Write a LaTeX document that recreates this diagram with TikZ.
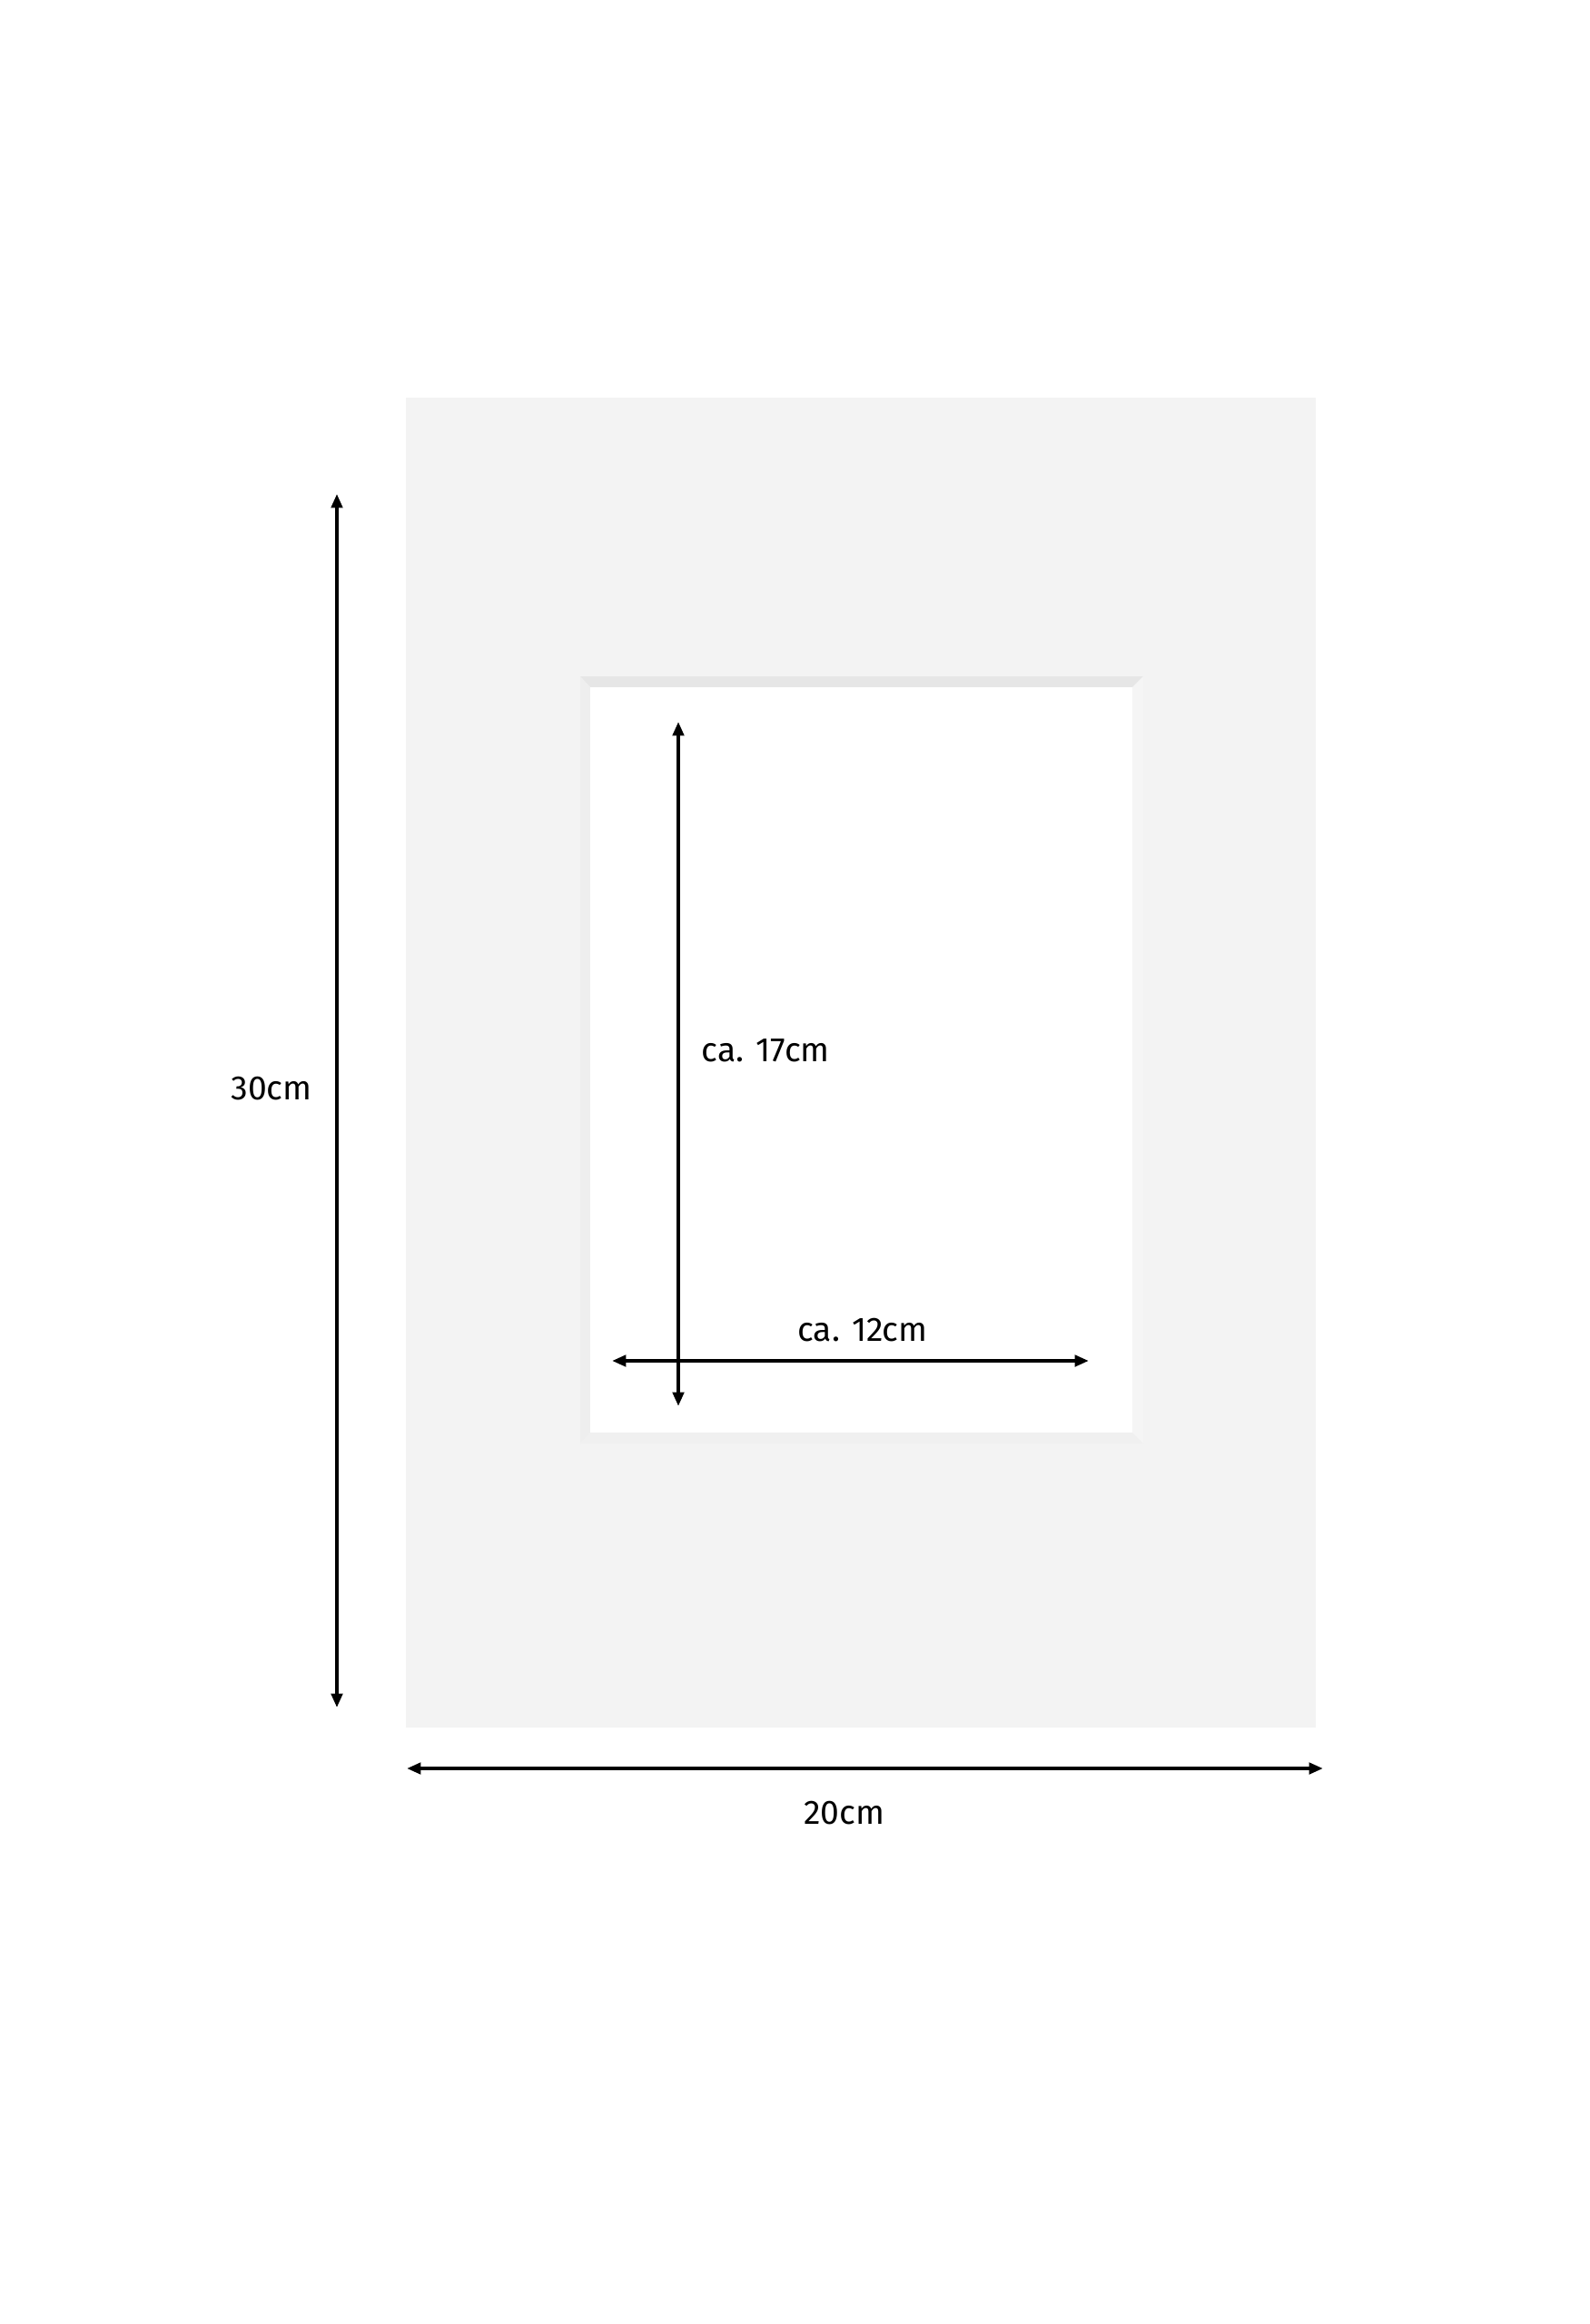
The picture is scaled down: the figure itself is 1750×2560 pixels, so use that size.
\documentclass[tikz,border=0pt]{standalone}
\usepackage{fontspec}
\setmainfont{Fira Sans}
\usetikzlibrary{arrows.meta}
\definecolor{matgray}{RGB}{243,243,243}
\definecolor{bevtop}{RGB}{230,230,230}
\definecolor{bevleft}{RGB}{238,238,238}
\definecolor{bevright}{RGB}{245,245,245}
\definecolor{bevbot}{RGB}{240,240,240}
\tikzset{
  dimline/.style={line width=1.15pt, black, {Triangle[length=4.4pt,width=3.5pt]}-{Triangle[length=4.4pt,width=3.5pt]}},
  dimlabel/.style={inner sep=0pt, font=\fontsize{10.6pt}{12pt}\selectfont, text=black}
}
\begin{document}
\begin{tikzpicture}[x=0.01cm,y=-0.01cm]
\useasboundingbox (0,0) rectangle (1750,2560);
\fill[white] (0,0) rectangle (1750,2560);
% mat board
\fill[matgray] (447,438) rectangle (1449,1903);
% bevel of the window
\fill[bevtop] (639,745) -- (1259,745) -- (1247,757) -- (650,757) -- cycle;
\fill[bevleft] (639,745) -- (650,757) -- (650,1578) -- (639,1590) -- cycle;
\fill[bevright] (1259,745) -- (1247,757) -- (1247,1578) -- (1259,1590) -- cycle;
\fill[bevbot] (639,1590) -- (650,1578) -- (1247,1578) -- (1259,1590) -- cycle;
\fill[white] (650,757) rectangle (1247,1578);
% end points of the dimension lines
\coordinate (hT) at (371,544);
\coordinate (hB) at (371,1881);
\coordinate (wL) at (448,1948);
\coordinate (wR) at (1457,1948);
\coordinate (iT) at (747,795);
\coordinate (iB) at (747,1549);
\coordinate (iL) at (674,1499);
\coordinate (iR) at (1199,1499);
% dimension lines
\draw[dimline] (hT) -- (hB);
\draw[dimline] (wL) -- (wR);
\draw[dimline] (iT) -- (iB);
\draw[dimline] (iL) -- (iR);
% labels
\node[dimlabel, anchor=base] (lh) at (299,1211) {30cm};
\node[dimlabel, anchor=base] (lw) at (930,2009) {20cm};
\node[dimlabel, anchor=base] (liw) at (950,1477) {ca. 12cm};
\node[dimlabel, anchor=base west] (lih) at (772,1169) {ca. 17cm};
\end{tikzpicture}
\end{document}
